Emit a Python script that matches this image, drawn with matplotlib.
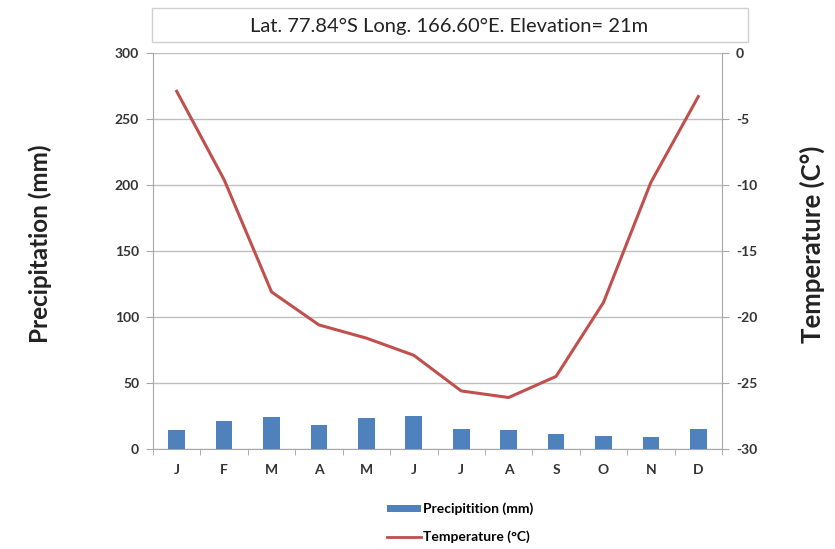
import matplotlib
matplotlib.use("Agg")
import matplotlib.pyplot as plt
from matplotlib.patches import Rectangle
from matplotlib.lines import Line2D
from matplotlib.patches import Patch
import numpy as np

plt.rcParams['font.family'] = ['Lato', 'DejaVu Sans']
plt.rcParams['axes.unicode_minus'] = False

months = ["J", "F", "M", "A", "M", "J", "J", "A", "S", "O", "N", "D"]
precip = [14.5, 21, 24, 18, 23.5, 25, 15.5, 14.5, 11.5, 9.5, 9.3, 15.5]
temp = [-2.9, -9.6, -18.1, -20.6, -21.6, -22.9, -25.6, -26.1, -24.5, -18.9, -9.8, -3.3]
title = "Lat. 77.84°S Long. 166.60°E. Elevation= 21m"

W, H = 835, 549
fig = plt.figure(figsize=(W/100, H/100), dpi=100)
ax = fig.add_axes([153/W, 1-449/H, (722-153)/W, (449-53)/H])
ax2 = ax.twinx()

x = np.arange(len(months))
ax.bar(x, precip, width=0.35, color="#4F81BD", zorder=3)
ax2.plot(x, temp, color="#C0504D", lw=2.2, zorder=4)

gray = "#A6A6A6"
ax.set_xlim(-0.5, 11.5)
ax.set_ylim(0, 300)
ax.set_yticks(range(0, 301, 50))
ax2.set_ylim(-30, 0)
ax2.set_yticks(range(-30, 1, 5))
ax.grid(axis='y', color="#BFBFBF", lw=1, zorder=0)
ax.set_axisbelow(True)

for a in (ax, ax2):
    a.spines['top'].set_visible(False)
    for s in ('left', 'right', 'bottom'):
        a.spines[s].set_color(gray)
ax.spines['right'].set_visible(False)
ax2.spines['left'].set_visible(False)
ax2.spines['bottom'].set_visible(False)

ax.set_xticks(x)
ax.set_xticklabels(months, fontsize=10, fontweight='bold', color="#333333")
ax.tick_params(axis='x', length=0, pad=11)
ax.set_xticks(np.arange(-0.5, 12, 1), minor=True)
ax.tick_params(axis='x', which='minor', length=4, color=gray)
ax.tick_params(axis='y', length=5, color=gray, labelsize=10, labelcolor="#333333", pad=5)
ax2.tick_params(axis='y', length=5, color=gray, labelsize=10, labelcolor="#333333", pad=5)
for lab in ax.get_yticklabels() + ax2.get_yticklabels():
    lab.set_fontweight('bold')

fig.text(40/W, 1-244/H, "Precipitation (mm)", rotation=90, ha='center', va='center',
         fontsize=17.5, fontweight='bold', color="#222222")
fig.text(812/W, 1-244/H, "Temperature (C°)", rotation=90, ha='center', va='center',
         fontsize=18.5, fontweight='bold', color="#222222")

fig.patches.append(Rectangle((152/W, 1-42/H), (748-152)/W, 34/H, transform=fig.transFigure,
                             facecolor='white', edgecolor="#D0D0D0", lw=1))
fig.text(449/W, 1-26/H, title, ha='center', va='center', fontsize=14.5, color="#222222")

handles = [Patch(facecolor="#4F81BD", label="Precipitition (mm)"),
           Line2D([0], [0], color="#C0504D", lw=2, label="Temperature (°C)")]
fig.legend(handles=handles, loc='center', bbox_to_anchor=(460/W, 1-523/H), frameon=False,
           prop={'size': 10, 'weight': 'bold'}, handlelength=2.4, handleheight=0.45,
           handletextpad=0.15, labelspacing=1.1)

fig.savefig("out.png", dpi=100)
